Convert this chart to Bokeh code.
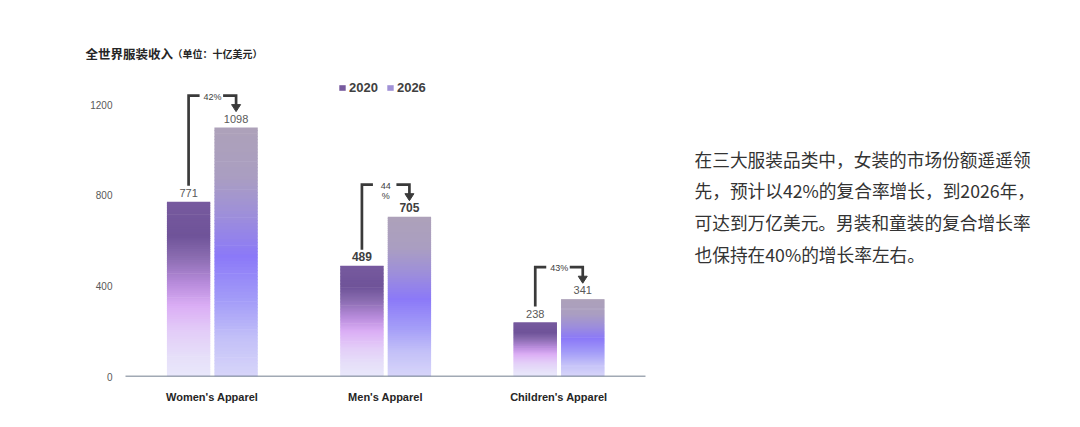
from bokeh.plotting import figure
from bokeh.models import Range1d, FixedTicker, ColumnDataSource, Legend, LegendItem
from bokeh.core.properties import value
from bokeh.embed import file_html
from bokeh.resources import INLINE

# data
categories = ["Women's Apparel", "Men's Apparel", "Children's Apparel"]
years = ["2020", "2026"]
revenue_2020 = [771, 489, 238]
revenue_2026 = [1098, 705, 341]
growth_labels = ["42%", "44\n%", "43%"]
highlight = "Men's Apparel"
y_ticks = [0, 400, 800, 1200]
title_main = "全世界服装收入"
title_unit = "（单位：十亿美元）"
paragraph = [
    "在三大服装品类中，女装的市场份额遥遥领",
    "先，预计以42%的复合率增长，到2026年，",
    "可达到万亿美元。男装和童装的复合增长率",
    "也保持在40%的增长率左右。",
]

# layout (canvas pixels)
W, H = 1064, 411
B_LEFT, B_RIGHT, B_TOP, B_BOTTOM = 80, 8, 18, 35
PX_X = 173.33          # px per category
PX_Y = 272 / 1200      # px per billion
AXIS_X, BASE = 125, H - B_BOTTOM   # where the category band starts / y = 0
OFF_2020, OFF_2026, BAR_W = -0.136, 0.138, 0.25

LATIN = value("Liberation Sans")
CJK = value("Noto Sans CJK SC")

def dx(px):
    return px / PX_X

def dy(px):
    return px / PX_Y

def page_x(px):
    return -0.5 + (px - AXIS_X) / PX_X

def page_y(py):
    return (BASE - py) / PX_Y

# gradient stops, fraction measured from the top of the bar
STOPS = {
    "2020": [(0.0, "#775a9e"), (0.2, "#6f5399"), (0.32, "#8a6cb0"), (0.47, "#b78bdb"),
             (0.6, "#dbaef5"), (0.75, "#e3cdf8"), (0.9, "#e6e0f9"), (1.0, "#e9e7fb")],
    "2026": [(0.0, "#ada1b9"), (0.2, "#aa9ec1"), (0.35, "#9e8fd9"), (0.52, "#8b79f8"),
             (0.7, "#a49df8"), (0.85, "#c3c0f8"), (1.0, "#d7d5f9")],
}
N_SLICES = 80

def hex_rgb(h):
    return [int(h[i:i + 2], 16) for i in (1, 3, 5)]

def blend(stops, f):
    for (f0, c0), (f1, c1) in zip(stops, stops[1:]):
        if f <= f1:
            t = (f - f0) / (f1 - f0)
            a, b = hex_rgb(c0), hex_rgb(c1)
            return "#%02x%02x%02x" % tuple(round(a[k] + (b[k] - a[k]) * t) for k in range(3))
    return stops[-1][1]

def gradient_bars(vals, offset, stops, n=N_SLICES):
    # each bar is a stack of thin slices; slices overlap a hair to avoid seams
    d = dict(left=[], right=[], bottom=[], top=[], color=[])
    for i, v in enumerate(vals):
        for k in range(n):
            d["left"].append(i + offset - BAR_W / 2)
            d["right"].append(i + offset + BAR_W / 2)
            d["top"].append(min(v, v * (1 - k / n) + dy(0.7)))
            d["bottom"].append(v * (1 - (k + 1) / n))
            d["color"].append(blend(stops, (k + 0.5) / n))
    return ColumnDataSource(d)

p = figure(width=W, height=H,
           x_range=Range1d(page_x(B_LEFT), page_x(W - B_RIGHT)),
           y_range=Range1d(0, page_y(B_TOP)),
           min_border_left=B_LEFT, min_border_right=B_RIGHT,
           min_border_top=B_TOP, min_border_bottom=B_BOTTOM,
           output_backend="svg", toolbar_location=None, tools="")
p.outline_line_color = None
p.grid.visible = False

bar_renderers = {}
for yr, vals, off in [("2020", revenue_2020, OFF_2020), ("2026", revenue_2026, OFF_2026)]:
    bar_renderers[yr] = p.quad(left="left", right="right", bottom="bottom", top="top",
                               fill_color="color", line_color=None,
                               source=gradient_bars(vals, off, STOPS[yr]))

# baseline
p.segment(x0=[-0.5], x1=[len(categories) - 0.5], y0=[0], y1=[0],
          line_color="#44546a", line_width=1.5)

# value labels
for vals, off in [(revenue_2020, OFF_2020), (revenue_2026, OFF_2026)]:
    for i, v in enumerate(vals):
        bold = categories[i] == highlight
        p.text(x=[i + off], y=[v], text=[str(v)], y_offset=-5,
               text_align="center", text_baseline="bottom", text_font=LATIN,
               text_font_size="12px" if bold else "11px",
               text_font_style="bold" if bold else "normal",
               text_color="#404040" if bold else "#595959")

# growth connectors
for i, (v0, v1) in enumerate(zip(revenue_2020, revenue_2026)):
    xa, xb = i + OFF_2020, i + OFF_2026
    y_low, y_top, y_tip = v0 + dy(16), v1 + dy(32), v1 + dy(16)
    p.multi_line(xs=[[xa, xa, xa + dx(11)], [xb - dx(13), xb, xb]],
                 ys=[[y_low, y_top, y_top], [y_top, y_top, y_tip + dy(6)]],
                 line_color="#3a3a3a", line_width=2.7, line_join="miter")
    p.patch(x=[xb - dx(4.5), xb + dx(4.5), xb], y=[y_tip + dy(7), y_tip + dy(7), y_tip],
            fill_color="#3a3a3a", line_color="#3a3a3a")
    p.text(x=[i + 0.002], y=[y_top + dy(4)], text=[growth_labels[i]],
           text_align="center", text_baseline="top", text_font=LATIN,
           text_font_size="9px", text_color="#404040", text_line_height=1.0)

# axes
p.yaxis.ticker = FixedTicker(ticks=y_ticks)
p.xaxis.ticker = FixedTicker(ticks=list(range(len(categories))))
p.xaxis.major_label_overrides = {i: c for i, c in enumerate(categories)}
for ax in (p.xaxis, p.yaxis):
    ax.axis_line_color = None
    ax.major_tick_line_color = None
    ax.minor_tick_line_color = None
    ax.major_label_text_font = "Liberation Sans"
p.yaxis.major_label_text_font_size = "10px"
p.yaxis.major_label_text_color = "#595959"
p.yaxis.major_label_standoff = -(AXIS_X - B_LEFT) + 7   # labels sit just left of the baseline
p.xaxis.major_label_text_font_size = "11px"
p.xaxis.major_label_text_font_style = "bold"
p.xaxis.major_label_text_color = "#262626"
p.xaxis.major_label_standoff = 8

# legend, swatches taken from a slice of each bar series
legend = Legend(items=[LegendItem(label=years[0], renderers=[bar_renderers["2020"]], index=0),
                       LegendItem(label=years[1], renderers=[bar_renderers["2026"]], index=26)],
                orientation="horizontal", location=(213 + AXIS_X - B_LEFT, 281),
                glyph_width=8, glyph_height=7, label_height=14, label_standoff=3,
                spacing=8, padding=0, margin=0, border_line_color=None,
                background_fill_alpha=0, label_text_font="Liberation Sans",
                label_text_font_size="13px", label_text_font_style="bold",
                label_text_color="#404040")
p.add_layout(legend)

# title
p.text(x=[page_x(85)], y=[page_y(53)], text=[title_main], text_font=CJK,
       text_font_size="12.5px", text_font_style="bold", text_baseline="middle",
       text_color="#262626")
p.text(x=[page_x(172)], y=[page_y(53)], text=[title_unit], text_font=CJK,
       text_font_size="10px", text_font_style="bold", text_baseline="middle",
       text_color="#262626")

# commentary
p.text(x=[page_x(694)] * len(paragraph),
       y=[page_y(158 + 31.7 * k) for k in range(len(paragraph))],
       text=paragraph, text_font=CJK, text_font_size="17.7px",
       text_baseline="middle", text_color="#333333")

open("out.html", "w").write(file_html(p, INLINE))
